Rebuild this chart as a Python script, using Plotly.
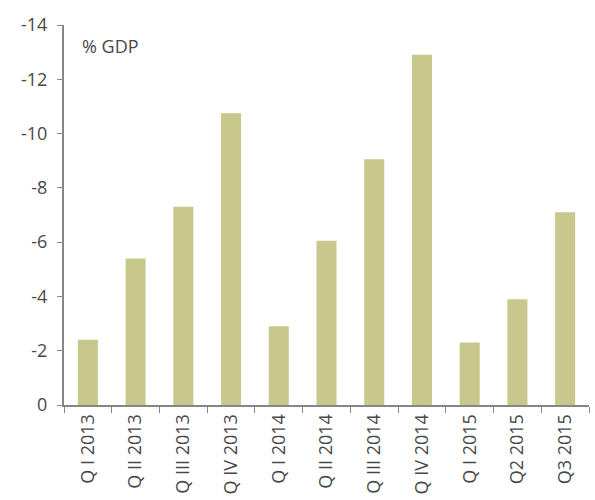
import plotly.graph_objects as go

categories = ["Q I 2013", "Q II 2013", "Q III 2013", "Q IV 2013", "Q I 2014",
              "Q II 2014", "Q III 2014", "Q IV 2014", "Q I 2015", "Q2 2015", "Q3 2015"]
values = [-2.4, -5.4, -7.3, -10.75, -2.9, -6.05, -9.05, -12.9, -2.3, -3.9, -7.1]
tick_vals = [-14, -12, -10, -8, -6, -4, -2, 0]

bar_color = "#c8c88c"
axis_color = "#868686"
text_color = "#484848"
font_family = "'Open Sans', sans-serif"

fig = go.Figure(go.Bar(x=categories, y=values, marker=dict(color=bar_color, line=dict(width=0))))

fig.update_layout(
    width=595, height=500,
    margin=dict(l=64, r=6, t=25, b=95),
    plot_bgcolor="white", paper_bgcolor="white",
    bargap=0.58,
    showlegend=False,
    font=dict(family=font_family, color=text_color, size=16),
)
fig.update_yaxes(
    range=[0, -14], autorange=False,
    tickvals=tick_vals, ticktext=[str(v) for v in tick_vals],
    showgrid=False, zeroline=False,
    showline=True, linecolor=axis_color, linewidth=2,
    ticks="outside", ticklen=5, tickcolor=axis_color, tickwidth=1,
    tickfont=dict(size=18, color=text_color),
    ticklabelstandoff=6,
    automargin=False,
)
fig.update_xaxes(
    showgrid=False, showline=True, linecolor=axis_color, linewidth=2,
    ticks="outside", ticklen=6, tickcolor=axis_color, tickwidth=1,
    tickson="boundaries", tickangle=-90,
    tickfont=dict(size=18, color=text_color),
    automargin=False,
)
fig.add_annotation(
    text="% GDP", xref="paper", yref="paper", x=0.031, y=0.945,
    xanchor="left", yanchor="middle", showarrow=False,
    font=dict(size=18, color=text_color),
)
fig.write_html("out.html")
